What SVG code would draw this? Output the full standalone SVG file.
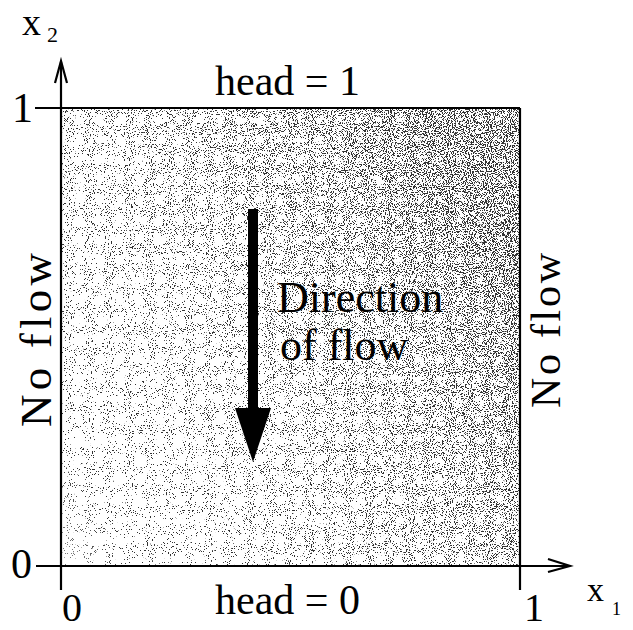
<svg xmlns="http://www.w3.org/2000/svg" width="633" height="630" viewBox="0 0 633 630">
<style>
text{font-family:"Liberation Serif","Times New Roman",serif;fill:#000}
.lbl{font-size:42px}
.ax{stroke:#000;stroke-width:2.2;fill:none}
</style>
<defs>
<linearGradient id="g" x1="0" y1="0.95" x2="1" y2="0.4">
<stop offset="0" stop-color="#000" stop-opacity="0.01"/>
<stop offset="0.4" stop-color="#000" stop-opacity="0.11"/>
<stop offset="0.8" stop-color="#000" stop-opacity="0.28"/>
<stop offset="1" stop-color="#000" stop-opacity="0.4"/>
</linearGradient>
<filter id="stip" x="0" y="0" width="1" height="1" color-interpolation-filters="sRGB">
<feTurbulence type="fractalNoise" baseFrequency="0.95" numOctaves="2" seed="4" result="t"/>
<feColorMatrix in="t" type="matrix" values="0 0 0 0 0  0 0 0 0 0  0 0 0 0 0  0 0 0 2.6 -0.8" result="n"/>
<feComposite in="n" in2="SourceGraphic" operator="arithmetic" k1="0" k2="-14" k3="14" k4="0.5" result="c"/>
<feColorMatrix in="c" type="matrix" values="0 0 0 0 0  0 0 0 0 0  0 0 0 0 0  0 0 0 0.8 0"/>
</filter>
</defs>
<g id="domain">
<rect x="61" y="108" width="459" height="458" fill="#fff"/>
<rect x="61" y="108" width="459" height="458" fill="url(#g)" filter="url(#stip)"/>
</g>
<g id="connectors">
<line class="ax" x1="35" y1="108" x2="520" y2="108"/>
<line class="ax" x1="520" y1="108" x2="520" y2="590"/>
<line class="ax" x1="61" y1="590" x2="61" y2="62"/>
<polyline class="ax" points="55,83 61,61 67,83"/>
<line class="ax" x1="36" y1="566" x2="569" y2="566"/>
<polyline class="ax" points="548,559 570,566 548,572"/>
<polygon id="flow-arrow" points="248,209 258,209 258,408 271,408 253,462 235,408 248,408" fill="#000"/>
</g>
<g id="labels">
<text class="lbl" x="215" y="95">head = 1</text>
<text class="lbl" x="215" y="614">head = 0</text>
<text x="277" y="312" font-size="44">Direction</text>
<text x="280" y="360" font-size="44">of flow</text>
<text transform="translate(51,427) rotate(-90)" font-size="45" textLength="174">No flow</text>
<text transform="translate(560,408) rotate(-90)" font-size="42" textLength="155">No flow</text>
<text class="lbl" x="12" y="122">1</text>
<text class="lbl" x="11" y="578">0</text>
<text x="62" y="621" font-size="40">0</text>
<text x="524" y="621" font-size="40">1</text>
<text x="22" y="35" font-size="38">x</text>
<text x="47" y="42" font-size="22">2</text>
<text x="587" y="601" font-size="34">x</text>
<text x="612" y="615" font-size="18">1</text>
</g>
</svg>
